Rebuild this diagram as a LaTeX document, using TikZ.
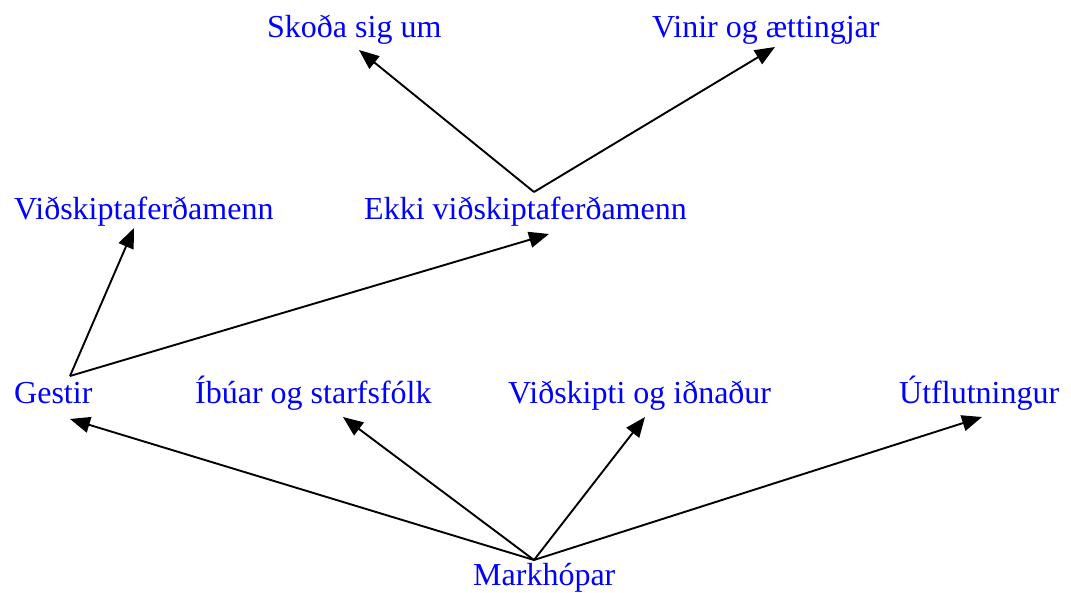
\documentclass[tikz,border=0pt]{standalone}
\usepackage{fontspec}
\setmainfont{Liberation Serif}
\usetikzlibrary{arrows.meta}
\begin{document}
\begin{tikzpicture}[x=1pt,y=-1pt,
  lbl/.style={anchor=base west,inner sep=0pt,text=blue,font=\fontsize{32}{38}\selectfont},
  arr/.style={-{Triangle[length=20pt,width=16pt]},line width=1.9pt,black}]
\useasboundingbox (0,0) rectangle (1071,592);
\node[lbl] (skoda) at (267,37) {Skoða sig um};
\node[lbl] (vinir) at (652,37) {Vinir og ættingjar};
\node[lbl] (vidf) at (14,219) {Viðskiptaferðamenn};
\node[lbl] (ekki) at (364,219) {Ekki viðskiptaferðamenn};
\node[lbl] (gestir) at (14,403) {Gestir};
\node[lbl] (ibuar) at (195,403) {Íbúar og starfsfólk};
\node[lbl] (vidsk) at (508,403) {Viðskipti og iðnaður};
\node[lbl] (utfl) at (899,403) {Útflutningur};
\node[lbl] (mark) at (473,585) {Markhópar};
% connector ends
\coordinate (markTop) at (534,560);
\coordinate (gestirBot) at (70,419);
\coordinate (ibuarBot) at (343,417);
\coordinate (vidskBot) at (645,417);
\coordinate (utflBot) at (982,417);
\coordinate (gestirTop) at (70,376);
\coordinate (vidfBot) at (134,228);
\coordinate (ekkiBot) at (549,234);
\coordinate (ekkiTop) at (534,192);
\coordinate (skodaBot) at (359,50);
\coordinate (vinirBot) at (775,47);
\draw[arr] (markTop) -- (gestirBot);
\draw[arr] (markTop) -- (ibuarBot);
\draw[arr] (markTop) -- (vidskBot);
\draw[arr] (markTop) -- (utflBot);
\draw[arr] (gestirTop) -- (vidfBot);
\draw[arr] (gestirTop) -- (ekkiBot);
\draw[arr] (ekkiTop) -- (skodaBot);
\draw[arr] (ekkiTop) -- (vinirBot);
\end{tikzpicture}
\end{document}
